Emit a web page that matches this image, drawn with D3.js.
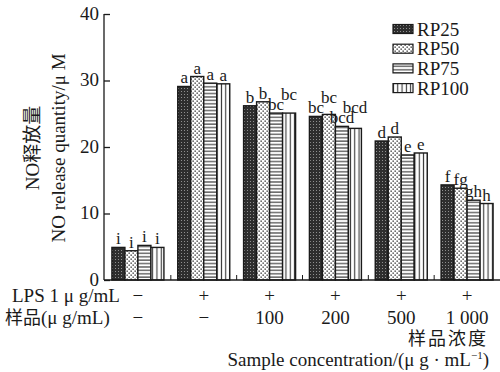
<!DOCTYPE html>
<html>
<head>
<meta charset="utf-8">
<script src="https://cdn.jsdelivr.net/npm/d3@7/dist/d3.min.js"></script>
<style>
  html, body { margin: 0; padding: 0; background: #fff; }
  svg { display: block; }
  text { font-family: "Liberation Serif", "Times New Roman", serif; fill: #1a1a1a; }
  .cjk { font-family: "Noto Sans CJK SC", sans-serif; fill: #1a1a1a; }
</style>
</head>
<body>
<svg id="chart" width="500" height="372"></svg>
<script>
// Treatment groups along the x axis
const groups = ["ctrl", "lps", "c100", "c200", "c500", "c1000"];
const lpsRow = ["−", "+", "+", "+", "+", "+"];
const sampleRow = ["−", "−", "100", "200", "500", "1 000"];

// Series (polysaccharide fractions)
const series = ["RP25", "RP50", "RP75", "RP100"];

// NO release (μM) per group, one array per series
const rp25 = [4.9, 29.1, 26.2, 24.6, 20.9, 14.3];
const rp50 = [4.4, 30.6, 26.8, 24.9, 21.5, 13.8];
const rp75 = [5.2, 29.6, 25.1, 23.1, 18.8, 12.0];
const rp100 = [4.9, 29.5, 25.1, 22.8, 19.1, 11.5];

// Significance letters per group, one array per series
const sig25 = ["i", "a", "b", "bc", "d", "f"];
const sig50 = ["i", "a", "b", "bc", "d", "fg"];
const sig75 = ["i", "a", "bc", "bcd", "e", "gh"];
const sig100 = ["i", "a", "bc", "bcd", "e", "h"];

const yTicks = [0, 10, 20, 30, 40];

const values = [rp25, rp50, rp75, rp100];
const letters = [sig25, sig50, sig75, sig100];

const svg = d3.select("#chart");
const defs = svg.append("defs");

// Fill patterns for the four series
const pDark = defs.append("pattern").attr("id", "pat0").attr("patternUnits", "userSpaceOnUse")
  .attr("width", 3).attr("height", 3);
pDark.append("rect").attr("width", 3).attr("height", 3).attr("fill", "#2e2e2e");
pDark.append("rect").attr("x", 1).attr("y", 1).attr("width", 1).attr("height", 1).attr("fill", "#8f8f8f");

const pDot = defs.append("pattern").attr("id", "pat1").attr("patternUnits", "userSpaceOnUse")
  .attr("width", 4).attr("height", 4);
pDot.append("rect").attr("width", 4).attr("height", 4).attr("fill", "#fff");
pDot.append("rect").attr("x", 0.5).attr("y", 0.5).attr("width", 1.3).attr("height", 1.3).attr("fill", "#222");
pDot.append("rect").attr("x", 2.5).attr("y", 2.5).attr("width", 1.3).attr("height", 1.3).attr("fill", "#222");

const pH = defs.append("pattern").attr("id", "pat2").attr("patternUnits", "userSpaceOnUse")
  .attr("width", 4).attr("height", 3.4);
pH.append("rect").attr("width", 4).attr("height", 3.4).attr("fill", "#fff");
pH.append("rect").attr("y", 1.2).attr("width", 4).attr("height", 1.1).attr("fill", "#333");

const pV = defs.append("pattern").attr("id", "pat3").attr("patternUnits", "userSpaceOnUse")
  .attr("width", 4.3).attr("height", 4);
pV.append("rect").attr("width", 4.3).attr("height", 4).attr("fill", "#fff");
pV.append("rect").attr("x", 1.6).attr("width", 1.1).attr("height", 4).attr("fill", "#333");

const x0 = d3.scaleBand().domain(groups).range([105, 500]).paddingInner(0.21).paddingOuter(0.105);
const x1 = d3.scaleBand().domain(series).range([0, x0.bandwidth()]);
const y = d3.scaleLinear().domain([0, 40]).range([280, 14]);

// Bars
const g = svg.append("g");
const lbl = svg.append("g");
groups.forEach((grp, gi) => {
  const placed = [];
  series.forEach((s, si) => {
    const v = values[si][gi];
    g.append("rect")
      .attr("x", x0(grp) + x1(s))
      .attr("y", y(v))
      .attr("width", x1.bandwidth())
      .attr("height", y(0) - y(v))
      .attr("fill", `url(#pat${si})`)
      .attr("stroke", "#1a1a1a")
      .attr("stroke-width", 1.4);
    // significance letter; stepped up when it would run into its left neighbour
    const cxl = x0(grp) + x1(s) + x1.bandwidth() / 2;
    let base = y(v) - 3;
    const t = lbl.append("text")
      .attr("x", cxl)
      .attr("y", base)
      .attr("text-anchor", "middle")
      .attr("font-size", 17)
      .text(letters[si][gi]);
    const w = t.node().getComputedTextLength();
    const prev = placed[placed.length - 1];
    if (prev && Math.abs(cxl - prev.cx) < (w + prev.w) / 2 - 1 && Math.abs(base - prev.base) < 10) {
      base = prev.base - 10;
      t.attr("y", base);
    }
    placed.push({ cx: cxl, w, base });
  });
});

// Y axis with inward ticks
const yAxis = d3.axisRight(y).tickValues(yTicks).tickSize(6).tickFormat(d3.format("d"));
const ya = svg.append("g").attr("transform", "translate(104,0)").call(yAxis);
ya.select(".domain").attr("stroke", "#1a1a1a").attr("stroke-width", 1.3).attr("d", `M0,${y(40)}V${y(0)}`);
ya.selectAll(".tick line").attr("stroke", "#1a1a1a").attr("stroke-width", 1.3);
ya.selectAll(".tick text")
  .attr("x", -5).attr("text-anchor", "end").attr("dy", "0.28em")
  .attr("font-family", "Liberation Serif, serif").attr("font-size", 19).attr("fill", "#1a1a1a");

// X axis baseline and separators between groups
svg.append("line").attr("x1", 104).attr("x2", 500).attr("y1", y(0)).attr("y2", y(0))
  .attr("stroke", "#1a1a1a").attr("stroke-width", 1.3);
groups.slice(1).forEach(grp => {
  const xs = x0(grp) - x0.step() * x0.paddingInner() / 2;
  svg.append("line").attr("x1", xs).attr("x2", xs).attr("y1", y(0)).attr("y2", y(0) - 5)
    .attr("stroke", "#1a1a1a").attr("stroke-width", 1);
});

// Treatment rows under the axis
const cx = grp => x0(grp) + x0.bandwidth() / 2;
svg.append("text").attr("x", 12).attr("y", 302).attr("font-size", 19).text("LPS 1 μ g/mL");
svg.append("text").attr("x", 5).attr("y", 324).attr("font-size", 19)
  .html('<tspan class="cjk" font-size="18">样品</tspan>(μ g/mL)');
groups.forEach((grp, i) => {
  svg.append("text").attr("x", cx(grp)).attr("y", 302).attr("text-anchor", "middle")
    .attr("font-size", 19).text(lpsRow[i]);
  svg.append("text").attr("x", cx(grp)).attr("y", 324).attr("text-anchor", "middle")
    .attr("font-size", 19).text(sampleRow[i]);
});

// X axis titles
svg.append("text").attr("class", "cjk").attr("x", 488).attr("y", 345).attr("text-anchor", "end")
  .attr("font-size", 18).attr("letter-spacing", 2).text("样品浓度");
svg.append("text").attr("x", 489).attr("y", 366).attr("text-anchor", "end").attr("font-size", 19)
  .html('Sample concentration/(μ g · mL<tspan dy="-7" font-size="11">−1</tspan><tspan dy="7">)</tspan>');

// Y axis titles
svg.append("text").attr("transform", "translate(39,148) rotate(-90)").attr("text-anchor", "middle")
  .attr("font-size", 19).html('NO<tspan class="cjk">释放量</tspan>');
svg.append("text").attr("transform", "translate(65,148) rotate(-90)").attr("text-anchor", "middle")
  .attr("font-size", 19).text("NO release quantity/μ M");

// Legend
const leg = svg.append("g");
series.forEach((s, i) => {
  const ly = 29 + i * 19.7;
  leg.append("rect").attr("x", 393).attr("y", ly - 4.5).attr("width", 20).attr("height", 9)
    .attr("fill", `url(#pat${i})`).attr("stroke", "#1a1a1a").attr("stroke-width", 1.2);
  leg.append("text").attr("x", 417).attr("y", ly).attr("dy", "0.35em").attr("font-size", 19).text(s);
});
</script>
</body>
</html>
